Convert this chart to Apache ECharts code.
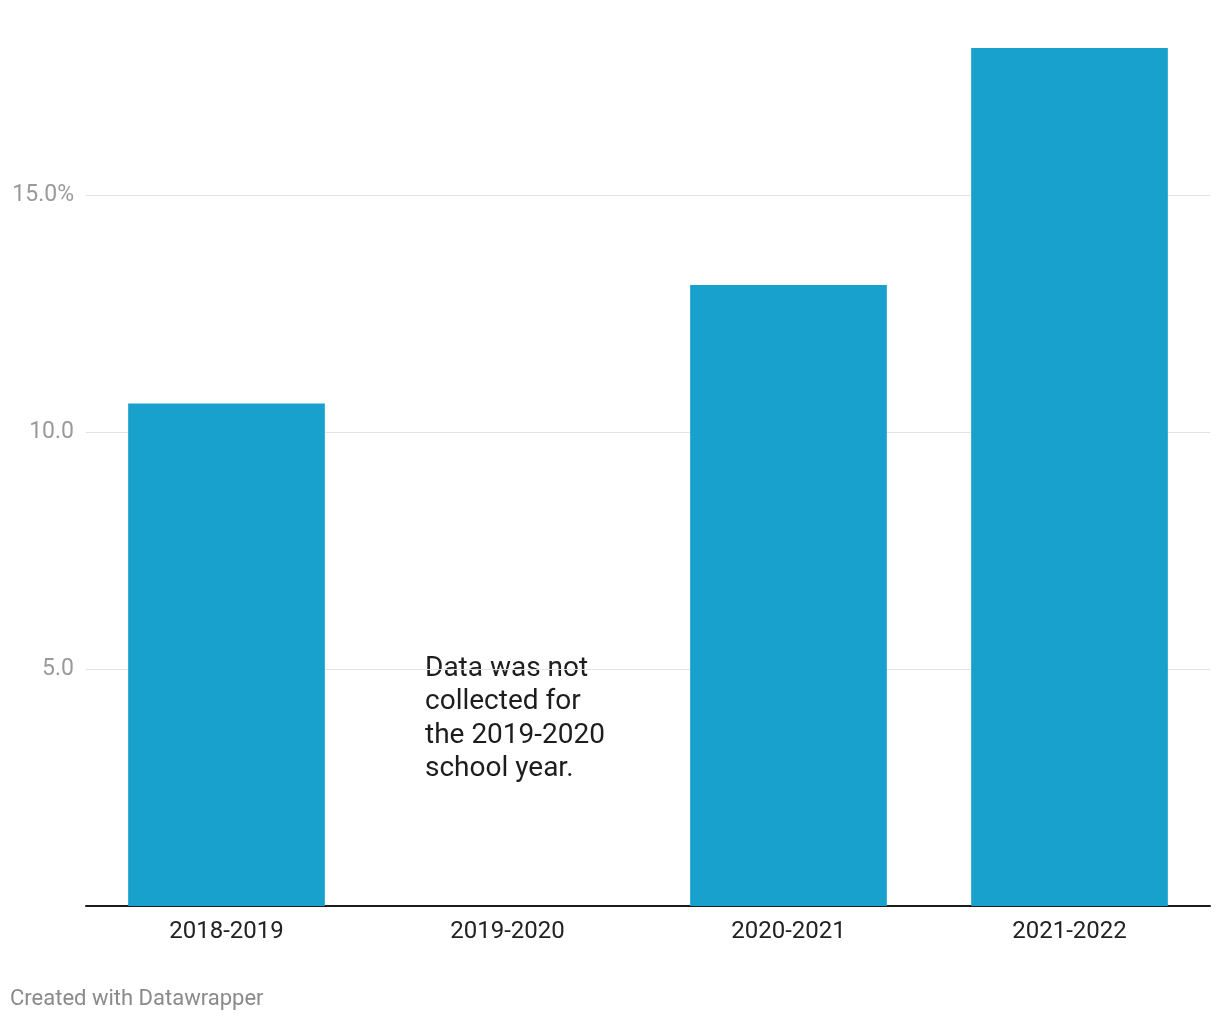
<!DOCTYPE html>
<html>
<head>
<meta charset="utf-8">
<script src="https://cdn.jsdelivr.net/npm/echarts@6/dist/echarts.min.js"></script>
<style>
html,body{margin:0;padding:0;background:#fff;}
#chart{width:1220px;height:1020px;}
</style>
</head>
<body>
<div id="chart"></div>
<script>
const categories = ['2018-2019', '2019-2020', '2020-2021', '2021-2022'];
const values = [10.6, null, 13.1, 18.1];
const yTicks = [5, 10, 15];
const noteText = 'Data was not\ncollected for\nthe 2019-2020\nschool year.';
const footerText = 'Created with Datawrapper';

const chart = echarts.init(document.getElementById('chart'));
chart.setOption({
  backgroundColor: '#ffffff',
  animation: false,
  textStyle: { fontFamily: 'Roboto' },
  grid: { left: 86, right: 10, top: 48, bottom: 114, containLabel: false },
  xAxis: {
    type: 'category',
    data: categories,
    axisLine: { show: true, lineStyle: { color: '#1d1d1d', width: 2 } },
    axisTick: { show: false },
    axisLabel: { color: '#222', fontSize: 24, margin: 14, fontFamily: 'Roboto' }
  },
  yAxis: {
    type: 'value',
    min: 0,
    max: 18.1,
    interval: 5,
    axisLine: { show: false },
    axisTick: { show: false },
    splitLine: { show: true, showMinLine: false, showMaxLine: false, lineStyle: { color: '#e3e3e3', width: 1 } },
    axisLabel: {
      color: '#9a9a9a', fontSize: 23, margin: 12, fontFamily: 'Roboto',
      padding: [6, 0, 0, 0],
      showMinLabel: false, showMaxLabel: false,
      formatter: function (v) {
        if (yTicks.indexOf(v) < 0) return '';
        return v === 15 ? v.toFixed(1) + '%' : v.toFixed(1);
      }
    }
  },
  series: [{
    type: 'bar',
    data: values,
    barWidth: '70%',
    itemStyle: { color: '#18a1cd' }
  }],
  graphic: [
    {
      type: 'text', left: 425, top: 652,
      style: { text: noteText, fill: '#1d1d1d', font: '28px Roboto', lineHeight: 33.5 }
    },
    {
      type: 'text', left: 10, top: 988,
      style: { text: footerText, fill: '#8a8a8a', font: '22px Roboto' }
    }
  ]
});
</script>
</body>
</html>
